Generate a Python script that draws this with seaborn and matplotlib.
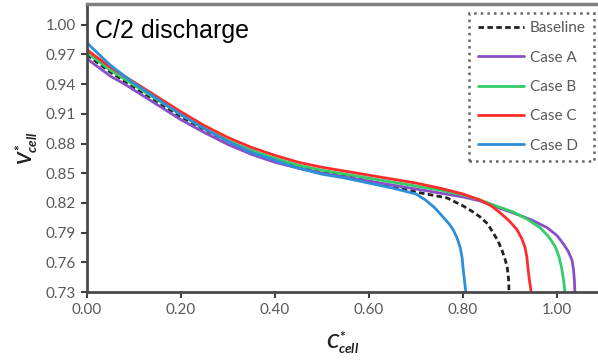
import matplotlib
matplotlib.use("Agg")
import matplotlib.pyplot as plt
import seaborn as sns
import pandas as pd

# ---- data ----
x_common = [0.00, 0.01, 0.03, 0.05, 0.08, 0.10, 0.15, 0.20, 0.25, 0.30, 0.35, 0.40,
            0.45, 0.50, 0.55, 0.60, 0.65, 0.70]

base_x = x_common + [0.766, 0.80, 0.821, 0.836, 0.852, 0.864, 0.875, 0.883, 0.889, 0.894, 0.897, 0.898]
base_y = [0.970, 0.966, 0.959, 0.952, 0.943, 0.937, 0.922, 0.907, 0.894, 0.882, 0.871, 0.863,
          0.856, 0.851, 0.847, 0.842, 0.837, 0.831,
          0.825, 0.817, 0.811, 0.806, 0.799, 0.790, 0.781, 0.772, 0.764, 0.755, 0.743, 0.730]

a_x = x_common + [0.75, 0.80, 0.836, 0.87, 0.906, 0.945, 0.979, 1.000, 1.013, 1.024, 1.032, 1.035, 1.037, 1.038]
a_y = [0.966, 0.962, 0.955, 0.948, 0.940, 0.934, 0.919, 0.904, 0.891, 0.879, 0.869, 0.861,
       0.855, 0.850, 0.846, 0.842, 0.838, 0.834,
       0.830, 0.826, 0.822, 0.816, 0.810, 0.803, 0.795, 0.787, 0.779, 0.771, 0.762, 0.753, 0.742, 0.730]

b_x = x_common + [0.75, 0.80, 0.836, 0.87, 0.906, 0.935, 0.964, 0.982, 0.996, 1.004, 1.010, 1.014, 1.017]
b_y = [0.972, 0.968, 0.961, 0.954, 0.945, 0.939, 0.924, 0.909, 0.895, 0.883, 0.873, 0.865,
       0.858, 0.853, 0.849, 0.845, 0.841, 0.837,
       0.833, 0.828, 0.823, 0.817, 0.811, 0.804, 0.795, 0.786, 0.776, 0.766, 0.754, 0.742, 0.730]

c_x = x_common + [0.75, 0.80, 0.836, 0.86, 0.879, 0.898, 0.915, 0.925, 0.932, 0.936, 0.938, 0.941, 0.945]
c_y = [0.975, 0.971, 0.964, 0.957, 0.948, 0.942, 0.927, 0.912, 0.898, 0.886, 0.876, 0.868,
       0.861, 0.856, 0.852, 0.848, 0.844, 0.840,
       0.835, 0.829, 0.823, 0.817, 0.810, 0.802, 0.793, 0.784, 0.775, 0.765, 0.755, 0.743, 0.730]

d_x = x_common + [0.72, 0.74, 0.757, 0.77, 0.779, 0.787, 0.794, 0.798, 0.800, 0.803, 0.806]
d_y = [0.982, 0.977, 0.968, 0.959, 0.948, 0.941, 0.925, 0.909, 0.895, 0.882, 0.871, 0.863,
       0.855, 0.849, 0.845, 0.840, 0.835, 0.829,
       0.823, 0.815, 0.806, 0.799, 0.793, 0.785, 0.775, 0.765, 0.755, 0.742, 0.730]

series_names = ["Baseline", "Case A", "Case B", "Case C", "Case D"]
series_x = [base_x, a_x, b_x, c_x, d_x]
series_y = [base_y, a_y, b_y, c_y, d_y]
colors = ["#222222", "#8a4fc7", "#33cc66", "#ff2b2b", "#2e8fd8"]
dashed = [True, False, False, False, False]

x_ticks = [0.0, 0.2, 0.4, 0.6, 0.8, 1.0]
y_ticks = [0.73, 0.76, 0.79, 0.82, 0.85, 0.88, 0.91, 0.94, 0.97, 1.00]

# ---- plot ----
sns.set_theme(style="white")
plt.rcParams["font.family"] = ["Lato", "DejaVu Sans"]
plt.rcParams["mathtext.fontset"] = "custom"
plt.rcParams["mathtext.it"] = "Lato:italic:bold"
plt.rcParams["mathtext.rm"] = "Lato:bold"

fig = plt.figure(figsize=(5.98, 3.62), dpi=100)
ax = fig.add_axes([87 / 598, 70 / 362, 1 - 87 / 598, (292 - 4) / 362])

for name, xs, ys, col, dsh in zip(series_names, series_x, series_y, colors, dashed):
    df = pd.DataFrame({"x": xs, "y": ys})
    sns.lineplot(data=df, x="x", y="y", ax=ax, color=col,
                 linewidth=2.0, sort=False, estimator=None, label=name)
    if dsh:
        ax.lines[-1].set_dashes((2.0, 1.2))

ax.set_xlim(0, (598 - 87) / 470)
ax.set_ylim(0.73, 0.73 + 288 * 0.03 / 29.7)
ax.set_xticks(x_ticks)
ax.set_yticks(y_ticks)
ax.set_xticklabels([f"{v:.2f}" for v in x_ticks])
ax.set_yticklabels([f"{v:.2f}" for v in y_ticks])
ax.tick_params(axis="both", which="major", direction="out", length=4, width=1.5,
               color="#404040", labelsize=11, labelcolor="#595959", pad=4,
               left=True, bottom=True)

for s in ["left", "bottom"]:
    ax.spines[s].set_color("#4a4a4a")
    ax.spines[s].set_linewidth(2.0)
ax.spines["top"].set_color("#808080")
ax.spines["top"].set_linewidth(2.5)
ax.spines["right"].set_visible(False)

ax.set_xlabel(r"$C^{*}_{cell}$", fontsize=14, color="#222222", labelpad=9)
ax.set_ylabel(r"$V^{*}_{cell}$", fontsize=14, color="#222222", labelpad=4)

ax.text((95 - 87) / 511, 1 - (38 - 4) / 288, "C/2 discharge", transform=ax.transAxes,
        fontsize=18, color="black", family="Liberation Sans", va="baseline", ha="left")

leg = ax.legend(loc="upper right", bbox_to_anchor=(594 / 598, 1 - 13 / 362),
                bbox_transform=fig.transFigure, borderaxespad=0, fontsize=11,
                handlelength=3.0, handletextpad=0.4, labelspacing=1.0,
                frameon=True, fancybox=False, borderpad=0.55)
frame = leg.get_frame()
frame.set_linestyle(":")
frame.set_edgecolor("#404040")
frame.set_linewidth(1.8)
for t in leg.get_texts():
    t.set_color("#595959")
leg.get_lines()[0].set_dashes((2.0, 1.2))

fig.savefig("out.png", dpi=100)
